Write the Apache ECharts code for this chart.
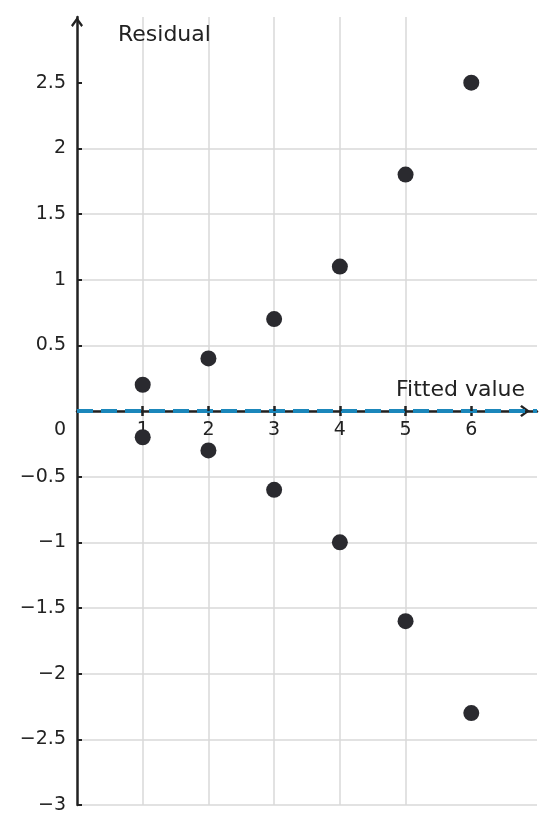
<!DOCTYPE html>
<html>
<head>
<meta charset="utf-8">
<script src="https://cdn.jsdelivr.net/npm/echarts@6/dist/echarts.min.js"></script>
<style>
html,body{margin:0;padding:0;background:#ffffff;}
#chart{width:555px;height:834px;}
</style>
</head>
<body>
<div id="chart"></div>
<script>
// ---- data ----
const fittedValues = [1, 1, 2, 2, 3, 3, 4, 4, 5, 5, 6, 6];
const residuals = [0.2, -0.2, 0.4, -0.3, 0.7, -0.6, 1.1, -1.0, 1.8, -1.6, 2.5, -2.3];
const xTickValues = [1, 2, 3, 4, 5, 6];
const yTickValues = [-3, -2.5, -2, -1.5, -1, -0.5, 0, 0.5, 1, 1.5, 2, 2.5];
const xRange = [0, 7];
const yRange = [-3, 3];
const zeroResidual = 0;

// ---- styles ----
const FONT = 'DejaVu Sans';
const TEXT = '#222222';
const AXIS = '#222222';
const GRID = '#d9d9d9';
const BLUE = '#1b87bb';
const POINT = '#2a2a2f';
const chevron = 'path://M0,8.2 L6,0 L12,8.2 L10.3,9.8 L6,3.8 L1.7,9.8 Z';
const fmt = v => String(v).replace('-', '\u2212');

const chart = echarts.init(document.getElementById('chart'), null, { renderer: 'canvas' });

function buildOption(bottomOffset, topOffset) {
  return {
    animation: false,
    backgroundColor: '#ffffff',
    grid: { left: 77, right: 18, top: 17, bottom: 29, containLabel: false },
    xAxis: [
      {
        type: 'value', min: xRange[0], max: xRange[1], interval: 1, position: 'bottom', offset: bottomOffset,
        name: 'Fitted value', nameLocation: 'end', nameGap: -12,
        nameTextStyle: { fontFamily: FONT, fontSize: 22, color: TEXT, align: 'right', verticalAlign: 'bottom', padding: [0, 0, 10, 0] },
        axisLine: { show: true, onZero: false, lineStyle: { color: AXIS, width: 2.5 },
          symbol: ['none', chevron], symbolSize: [12, 10], symbolOffset: [0, -12] },
        axisTick: { show: true, inside: false, length: 5, customValues: xTickValues, lineStyle: { color: AXIS, width: 2.5 } },
        axisLabel: { customValues: xTickValues, fontFamily: FONT, fontSize: 19, color: TEXT, margin: 10, formatter: fmt },
        splitLine: { show: true, showMinLine: true, showMaxLine: false, lineStyle: { color: GRID, width: 1.5 } }
      },
      {
        type: 'value', min: xRange[0], max: xRange[1], interval: 1, position: 'top', offset: topOffset, z: 5,
        axisLine: { show: false, onZero: false },
        axisTick: { show: true, inside: false, length: 5, customValues: xTickValues, lineStyle: { color: AXIS, width: 2.5 } },
        axisLabel: { show: false },
        splitLine: { show: false }
      }
    ],
    yAxis: {
      type: 'value', min: yRange[0], max: yRange[1], interval: 0.5,
      name: 'Residual', nameLocation: 'end', nameGap: -18,
      nameTextStyle: { fontFamily: FONT, fontSize: 22, color: TEXT, align: 'left', verticalAlign: 'middle', padding: [0, 0, 0, 41] },
      axisLine: { show: true, onZero: false, lineStyle: { color: AXIS, width: 2.5 },
        symbol: ['none', chevron], symbolSize: [12, 10], symbolOffset: [0, -5] },
      axisTick: { show: true, inside: true, length: 5, customValues: yTickValues, lineStyle: { color: AXIS, width: 2 } },
      axisLabel: {
        customValues: yTickValues, fontFamily: FONT, fontSize: 19, color: TEXT, margin: 11,
        formatter: v => (v === 0 ? '{z|0}' : fmt(v)),
        rich: { z: { fontFamily: FONT, fontSize: 19, color: TEXT, padding: [38, 0, 0, 0] } }
      },
      splitLine: { show: true, showMinLine: true, showMaxLine: false, lineStyle: { color: GRID, width: 1.5 } }
    },
    series: [
      {
        type: 'scatter',
        xAxisIndex: 0,
        data: fittedValues.map((x, i) => [x, residuals[i]]),
        symbol: 'circle',
        symbolSize: 16,
        itemStyle: { color: POINT, opacity: 1 },
        z: 3,
        markLine: {
          silent: true,
          symbol: ['none', 'none'],
          label: { show: false },
          lineStyle: { color: BLUE, width: 4, type: [16, 8], opacity: 1 },
          data: [{ yAxis: zeroResidual }]
        }
      }
    ]
  };
}

// first pass: lay out, then move the x axes onto residual = 0 using the y scale
chart.setOption(buildOption(0, 0));
const zeroPx = chart.convertToPixel({ yAxisIndex: 0 }, zeroResidual);
const bottomPx = chart.convertToPixel({ yAxisIndex: 0 }, yRange[0]);
const topPx = chart.convertToPixel({ yAxisIndex: 0 }, yRange[1]);
chart.setOption(buildOption(-(bottomPx - zeroPx), -(zeroPx - topPx)));
</script>
</body>
</html>
